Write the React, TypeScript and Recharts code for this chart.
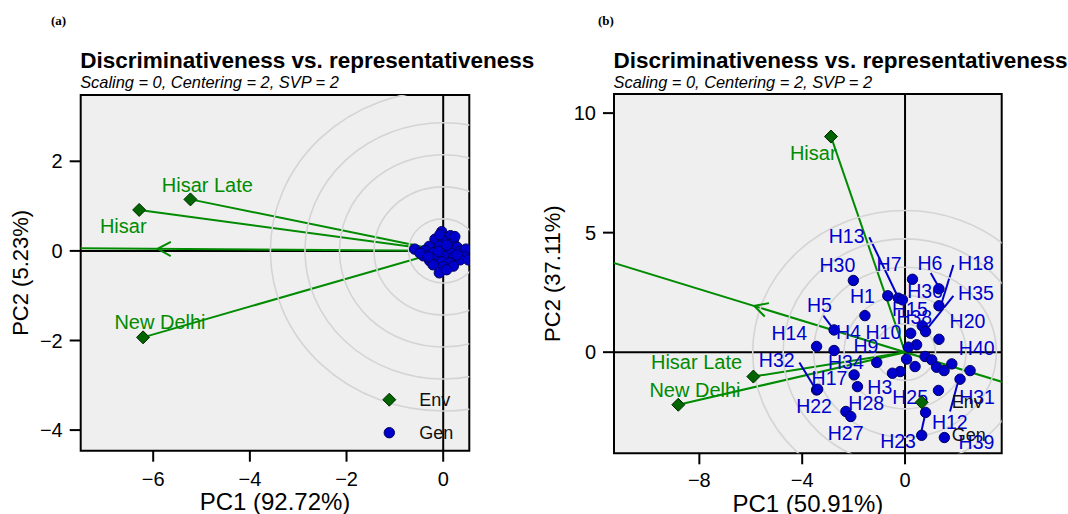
import {
  ScatterChart, Scatter, XAxis, YAxis, ReferenceLine, ReferenceArea, ReferenceDot,
} from 'recharts'

const FONT = '"Liberation Sans", Arial, Helvetica, sans-serif'
const GREEN = '#008b00'
const DARK_GREEN = '#006400'
const BLUE = '#0000cd'
const RING = '#d4d4d4'
const PANEL_W = 534
const PANEL_H = 514
const Y_AXIS_W = 60
const X_AXIS_H = 40

// ---------- panel (a) ----------
const envNames = ['Hisar', 'Hisar Late', 'New Delhi']
const envPc1A = [-6.29, -5.23, -6.21]
const envPc2A = [0.915, 1.15, -1.93]
const envLabelPc1A = [-6.62, -4.88, -5.86]
const envLabelPc2A = [0.56, 1.47, -1.58]

const genPc1A = [-0.03, 0.15, -0.17, 0.21, 0.0, -0.08, -0.29, 0.1, 0.29, -0.59, -0.38, -0.21, 0.14, 0.35, 0.47, 0.45, -0.41, -0.15, 0.03, 0.21, 0.35, -0.28, -0.03, 0.14, -0.21, 0.0, 0.21, -0.08, 0.07, -0.48, -0.1, 0.28, 0.07, 0.52, -0.31, -0.07, 0.24]
const genPc2A = [0.43, 0.34, 0.26, 0.21, 0.23, 0.11, 0.1, 0.1, 0.08, 0.04, 0.01, -0.04, -0.04, -0.01, 0.04, -0.13, -0.11, -0.14, -0.13, -0.16, -0.2, -0.22, -0.24, -0.27, -0.31, -0.35, -0.34, -0.49, 0.13, -0.05, -0.01, -0.09, -0.42, -0.2, -0.13, 0.36, 0.32]

const ringRadiiA = [0.715, 1.43, 2.145, 2.86, 3.575]

// ---------- panel (b) ----------
const envPc1B = [-2.88, -5.9, -8.82]
const envPc2B = [9.02, -1.02, -2.2]
const envLabelPc1B = [-3.57, -8.11, -8.17]
const envLabelPc2B = [8.35, -0.43, -1.58]

const genPc1B = [-2.01, 0.29, -0.67, -0.26, -0.1, 1.32, 1.32, -1.56, 0.67, 0.8, 0.22, 1.32, -2.76, -3.44, -2.76, 0.45, 0.13, -1.1, 0.06, 0.39, 0.78, 1.04, 1.23, 1.52, 1.82, 2.53, 2.14, -0.19, -0.49, -1.98, -1.85, -3.44, 1.3, -2.3, -2.11, 0.8, 1.53, -3.4]
const genPc2B = [3.0, 3.05, 2.36, 2.26, 2.19, 2.65, 1.94, 1.53, 1.1, 0.86, 0.79, 0.54, 0.93, 0.24, 0.07, 0.31, 0.21, -0.43, -0.29, -0.6, -0.18, -0.32, -0.63, -0.77, -0.49, -0.77, -1.13, -0.81, -0.88, -0.95, -1.44, -1.58, -1.6, -2.48, -2.69, -2.52, -3.57, -1.55]

const genLabelNamesB = ['H13', 'H30', 'H7', 'H6', 'H18', 'H1', 'H36', 'H35', 'H15', 'H38', 'H20', 'H5', 'H14', 'H4', 'H10', 'H9', 'H40', 'H32', 'H34', 'H17', 'H3', 'H25', 'H31', 'H22', 'H28', 'H12', 'H27', 'H23', 'H39']
const genLabelPc1B = [-2.27, -2.63, -0.62, 0.97, 2.76, -1.66, 0.78, 2.76, 0.19, 0.36, 2.43, -3.33, -4.5, -2.2, -0.84, -1.52, 2.79, -4.99, -2.3, -2.94, -0.98, 0.2, 2.8, -3.54, -1.51, 1.74, -2.31, -0.27, 2.78]
const genLabelPc2B = [4.87, 3.65, 3.7, 3.72, 3.72, 2.33, 2.57, 2.47, 1.82, 1.46, 1.32, 1.98, 0.82, 0.84, 0.84, 0.24, 0.16, -0.32, -0.43, -1.09, -1.47, -1.86, -1.86, -2.27, -2.14, -2.91, -3.4, -3.73, -3.75]

// ggrepel segments: [labelPc1, labelPc2, pointPc1, pointPc2]
const leadersB: [number, number, number, number][] = [
  [-1.39, 4.81, -0.3, 2.36],
  [1.0, 3.31, 1.3, 2.75],
  [1.88, 3.65, 1.43, 2.08],
  [1.88, 2.36, 0.91, 1.05],
  [-3.2, 1.56, -2.81, 1.0],
  [-4.11, -0.43, -3.5, -1.51],
  [2.08, -1.16, 1.75, -2.48],
  [0.8, -2.52, 0.62, -3.39],
]

const ringRadiiB = [1.185, 2.37, 3.555, 4.74, 5.925]

interface Box { left: number; top: number; right: number; bottom: number }

interface BiplotProps {
  tag: string
  xLabel: string
  yLabel: string
  xDomain: [number, number]
  yDomain: [number, number]
  xTicks: number[]
  yTicks: number[]
  plot: Box
  xTickMargin: number
  xTitleY: number
  yTitleX: number
  envPc1: number[]
  envPc2: number[]
  envLabelPc1: number[]
  envLabelPc2: number[]
  genPc1: number[]
  genPc2: number[]
  labelNames?: string[]
  labelPc1?: number[]
  labelPc2?: number[]
  leaders?: [number, number, number, number][]
  rings: number[]
}

const minus = (v: number) => String(v).replace('-', '\u2212')

function Biplot(p: BiplotProps) {
  const { plot, xDomain, yDomain } = p
  const sx = (plot.right - plot.left) / (xDomain[1] - xDomain[0])
  const sy = (plot.bottom - plot.top) / (yDomain[1] - yDomain[0])
  const clipId = `plot-clip-${p.tag.replace(/\W/g, '')}`

  const env = p.envPc1.map((x, i) => ({ x, y: p.envPc2[i], name: envNames[i] }))
  const envLabels = p.envLabelPc1.map((x, i) => ({ x, y: p.envLabelPc2[i], name: envNames[i] }))
  const gen = p.genPc1.map((x, i) => ({ x, y: p.genPc2[i] }))
  const genLabels = (p.labelNames ?? []).map((name, i) => ({ x: p.labelPc1![i], y: p.labelPc2![i], name }))

  // average environment axis goes through the mean environment
  const mx = p.envPc1.reduce((s, v) => s + v, 0) / p.envPc1.length
  const my = p.envPc2.reduce((s, v) => s + v, 0) / p.envPc2.length

  const ringShape = (props: any) => (
    <g>
      <defs>
        <clipPath id={clipId}>
          <rect x={plot.left} y={plot.top} width={plot.right - plot.left} height={plot.bottom - plot.top} />
        </clipPath>
      </defs>
      <g clipPath={`url(#${clipId})`}>
        {p.rings.map(r => (
          <ellipse key={r} cx={props.cx} cy={props.cy} rx={r * sx} ry={r * sy}
            fill="none" stroke={RING} strokeWidth={1.6} />
        ))}
      </g>
    </g>
  )

  const chevron = (props: any) => {
    const dx = -mx * sx
    const dy = my * sy
    const len = Math.hypot(dx, dy)
    const ux = dx / len
    const uy = dy / len
    const a = (28 * Math.PI) / 180
    const arm = 15
    const r1 = [ux * Math.cos(a) - uy * Math.sin(a), ux * Math.sin(a) + uy * Math.cos(a)]
    const r2 = [ux * Math.cos(-a) - uy * Math.sin(-a), ux * Math.sin(-a) + uy * Math.cos(-a)]
    const { cx, cy } = props
    return (
      <path d={`M${cx + r1[0] * arm},${cy + r1[1] * arm}L${cx},${cy}L${cx + r2[0] * arm},${cy + r2[1] * arm}`}
        fill="none" stroke={GREEN} strokeWidth={2} />
    )
  }

  const diamond = (props: any) => {
    const { cx, cy } = props
    const h = 6.5
    return <polygon points={`${cx},${cy - h} ${cx + h},${cy} ${cx},${cy + h} ${cx - h},${cy}`}
      fill={DARK_GREEN} stroke="#002800" strokeWidth={1} />
  }

  const dot = (props: any) => (
    <circle cx={props.cx} cy={props.cy} r={5.2} fill={BLUE} stroke="#000060" strokeWidth={1}
      clipPath={`url(#${clipId})`} />
  )

  const textShape = (color: string, size: number) => (props: any) => (
    <text x={props.cx} y={props.cy} textAnchor="middle" dominantBaseline="central"
      fill={color} fontSize={size} fontFamily={FONT}>{props.payload.name}</text>
  )

  const margin = {
    top: plot.top,
    left: plot.left - Y_AXIS_W,
    right: PANEL_W - plot.right,
    bottom: PANEL_H - plot.bottom - X_AXIS_H,
  }

  const legendX = plot.right - 80
  const legendY = plot.bottom - 51

  return (
    <div style={{ position: 'relative', width: PANEL_W, height: PANEL_H }}>
      <ScatterChart width={PANEL_W} height={PANEL_H} margin={margin}>
        <XAxis type="number" dataKey="x" domain={xDomain} ticks={p.xTicks} allowDataOverflow
          height={X_AXIS_H} axisLine={false} tickSize={11} tickMargin={p.xTickMargin}
          tickLine={{ stroke: '#000', strokeWidth: 2 }} tickFormatter={minus}
          tick={{ fill: '#000', fontSize: 20, fontFamily: FONT }} />
        <YAxis type="number" dataKey="y" domain={yDomain} ticks={p.yTicks} allowDataOverflow
          width={Y_AXIS_W} axisLine={false} tickSize={11} tickMargin={7}
          tickLine={{ stroke: '#000', strokeWidth: 2 }} tickFormatter={minus}
          tick={{ fill: '#000', fontSize: 20, fontFamily: FONT }} />
        <ReferenceArea x1={xDomain[0]} x2={xDomain[1]} y1={yDomain[0]} y2={yDomain[1]}
          fill="#efefef" fillOpacity={1} stroke="none" ifOverflow="visible" />
        <ReferenceDot x={0} y={0} r={1} shape={ringShape} ifOverflow="visible" />
        <ReferenceLine x={0} stroke="#000" strokeWidth={2} />
        <ReferenceLine y={0} stroke="#000" strokeWidth={2} />
        <ReferenceLine segment={[{ x: -mx * 30, y: -my * 30 }, { x: mx * 30, y: my * 30 }]}
          stroke={GREEN} strokeWidth={2} ifOverflow="hidden" />
        {env.map(e => (
          <ReferenceLine key={e.name} segment={[{ x: 0, y: 0 }, { x: e.x, y: e.y }]}
            stroke={GREEN} strokeWidth={2} ifOverflow="visible" />
        ))}
        <ReferenceDot x={mx} y={my} r={1} shape={chevron} ifOverflow="visible" />
        <Scatter data={gen} shape={dot} isAnimationActive={false} />
        {(p.leaders ?? []).map((l, i) => (
          <ReferenceLine key={i} segment={[{ x: l[0], y: l[1] }, { x: l[2], y: l[3] }]}
            stroke={BLUE} strokeWidth={2} ifOverflow="visible" />
        ))}
        <Scatter data={env} shape={diamond} isAnimationActive={false} />
        <Scatter data={envLabels} shape={textShape(GREEN, 20)} isAnimationActive={false} />
        <Scatter data={genLabels} shape={textShape(BLUE, 19.5)} isAnimationActive={false} />
        <ReferenceArea x1={xDomain[0]} x2={xDomain[1]} y1={yDomain[0]} y2={yDomain[1]}
          fill="none" stroke="#000" strokeWidth={2} ifOverflow="visible" />
      </ScatterChart>
      <svg width={PANEL_W} height={PANEL_H} style={{ position: 'absolute', left: 0, top: 0, pointerEvents: 'none' }}>
        <text x={p.tag === '(a)' ? 51 : 64} y={25} fontFamily='"Liberation Serif", "Times New Roman", serif'
          fontWeight="bold" fontSize={13}>{p.tag}</text>
        <text x={plot.left - 0.5} y={67.5} fontFamily={FONT} fontWeight="bold" fontSize={22.5}>
          Discriminativeness vs. representativeness
        </text>
        <text x={plot.left - 0.5} y={87.5} fontFamily={FONT} fontStyle="italic" fontSize={16.4}>
          Scaling = 0, Centering = 2, SVP = 2
        </text>
        <text x={(plot.left + plot.right) / 2} y={p.xTitleY} textAnchor="middle" fontFamily={FONT} fontSize={24}>
          {p.xLabel}
        </text>
        <text x={p.yTitleX} y={(plot.top + plot.bottom) / 2} textAnchor="middle" dominantBaseline="central"
          fontFamily={FONT} fontSize={22} transform={`rotate(-90 ${p.yTitleX} ${(plot.top + plot.bottom) / 2})`}>
          {p.yLabel}
        </text>
        <polygon points={`${legendX},${legendY - 6.5} ${legendX + 6.5},${legendY} ${legendX},${legendY + 6.5} ${legendX - 6.5},${legendY}`}
          fill={DARK_GREEN} stroke="#002800" strokeWidth={1} />
        <circle cx={legendX} cy={legendY + 33} r={5.2} fill={BLUE} stroke="#000060" strokeWidth={1} />
        <text x={legendX + 30} y={legendY} dominantBaseline="central" fontFamily={FONT} fontSize={18} fill="#111">Env</text>
        <text x={legendX + 30} y={legendY + 33} dominantBaseline="central" fontFamily={FONT} fontSize={18} fill="#111">Gen</text>
      </svg>
    </div>
  )
}

export default function App() {
  return (
    <div style={{ position: 'absolute', left: 0, top: 0, width: 1068, height: 514, background: '#fff', display: 'flex' }}>
      <Biplot
        tag="(a)"
        xLabel="PC1 (92.72%)"
        yLabel="PC2 (5.23%)"
        xDomain={[-7.5, 0.54]}
        yDomain={[-4.46, 3.48]}
        xTicks={[-6, -4, -2, 0]}
        yTicks={[-4, -2, 0, 2]}
        plot={{ left: 80.7, top: 95, right: 469.3, bottom: 450.7 }}
        xTickMargin={10}
        xTitleY={510}
        yTitleX={21}
        envPc1={envPc1A}
        envPc2={envPc2A}
        envLabelPc1={envLabelPc1A}
        envLabelPc2={envLabelPc2A}
        genPc1={genPc1A}
        genPc2={genPc2A}
        rings={ringRadiiA}
      />
      <Biplot
        tag="(b)"
        xLabel="PC1 (50.91%)"
        yLabel="PC2 (37.11%)"
        xDomain={[-11.32, 3.76]}
        yDomain={[-4.23, 10.8]}
        xTicks={[-8, -4, 0]}
        yTicks={[0, 5, 10]}
        plot={{ left: 80, top: 94, right: 467.7, bottom: 453.3 }}
        xTickMargin={8}
        xTitleY={512}
        yTitleX={19}
        envPc1={envPc1B}
        envPc2={envPc2B}
        envLabelPc1={envLabelPc1B}
        envLabelPc2={envLabelPc2B}
        genPc1={genPc1B}
        genPc2={genPc2B}
        labelNames={genLabelNamesB}
        labelPc1={genLabelPc1B}
        labelPc2={genLabelPc2B}
        leaders={leadersB}
        rings={ringRadiiB}
      />
    </div>
  )
}
